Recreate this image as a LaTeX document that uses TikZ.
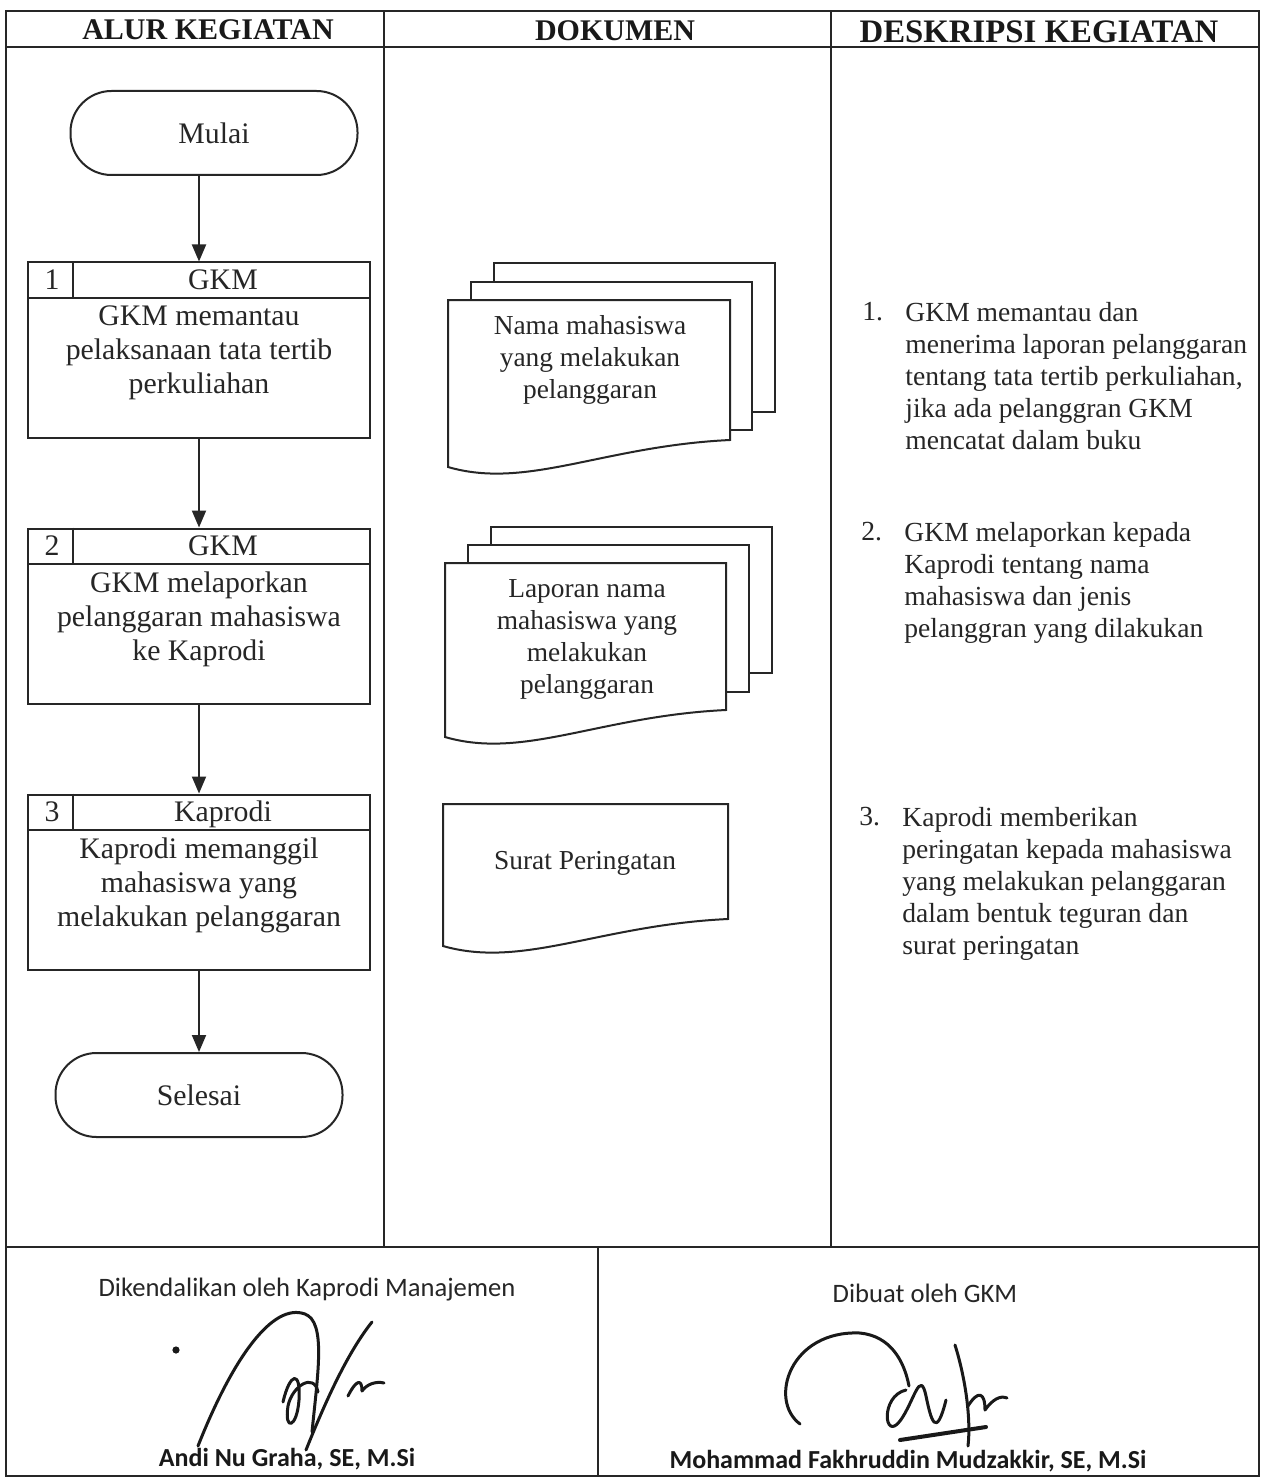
\documentclass[tikz,border=0pt]{standalone}
\usepackage{fontspec}
\setmainfont{Liberation Serif}
\newfontfamily\calib{Carlito}
\usetikzlibrary{arrows.meta}
\newcommand\docfront[4]{%
  \filldraw[docline] (#1,#2) -- (#3,#2) -- (#3,#4)
    .. controls ({#1+0.55*(#3-#1)},{#4+6}) and ({#1+0.28*(#3-#1)},{#4+50}) .. (#1,{#4+27}) -- cycle;}
\begin{document}
\begin{tikzpicture}[x=0.5pt,y=-0.5pt,
  ink/.style={black!85},
  frame/.style={draw=black!85,line width=1pt},
  docline/.style={draw=black!85,fill=white,line width=1pt},
  flowbox/.style={draw=black!85,line width=1pt,minimum width=171pt,minimum height=87.5pt,inner sep=0pt},
  bodytext/.style={inner sep=0pt,align=center,text=black!85,font=\fontsize{14.9}{17}\selectfont},
  term/.style={draw=black!85,line width=1pt,rounded corners=20.5pt,minimum width=143.5pt,minimum height=42pt,inner sep=0pt,text=black!85,font=\fontsize{14.9}{17}\selectfont},
  cell/.style={inner sep=0pt,anchor=base,text=black!85,font=\fontsize{14.9}{17}\selectfont},
  hdr/.style={inner sep=0pt,text=black!90,font=\fontsize{15}{17}\selectfont\bfseries},
  doctext/.style={inner sep=0pt,align=center,text=black!85,font=\fontsize{13.7}{16}\selectfont},
  desc/.style={inner sep=0pt,align=left,anchor=north west,text=black!85,font=\fontsize{13.8}{16}\selectfont},
  num/.style={inner sep=0pt,anchor=north west,text=black!85,font=\fontsize{13.8}{16}\selectfont},
  foot/.style={inner sep=0pt,text=black!85,font=\calib\fontsize{13.3}{15}\selectfont},
  footb/.style={inner sep=0pt,text=black!90,font=\calib\fontsize{13}{15}\selectfont\bfseries},
  arr/.style={draw=black!85,line width=1pt,-{Triangle[length=8.5pt,width=7pt]}},
  sig/.style={draw=black!90,line width=1.5pt,line cap=round,line join=round}]
\useasboundingbox (0,0) rectangle (1267,1482);
\fill[white] (0,0) rectangle (1267,1482);
% table
\draw[frame] (6,11) rectangle (1259,1476);
\draw[frame] (6,47) -- (1259,47);
\draw[frame] (384,11) -- (384,1247);
\draw[frame] (831,11) -- (831,1247);
\draw[frame] (6,1247) -- (1259,1247);
\draw[frame] (598,1247) -- (598,1476);
\node[hdr] (h1) at (208,30) {ALUR KEGIATAN};
\node[hdr] (h2) at (615,31) {DOKUMEN};
\node[hdr,font=\fontsize{16.4}{18}\selectfont\bfseries] (h3) at (1039,32) {DESKRIPSI KEGIATAN};
% flow
\node[term] (mulai) at (214,133) {Mulai};
\node[flowbox] (b1) at (199,350) {};
\node[flowbox] (b2) at (199,616) {};
\node[flowbox] (b3) at (199,882) {};
\node[bodytext] (b1t) at (199,353) {GKM memantau\\pelaksanaan tata tertib\\perkuliahan};
\node[bodytext] (b2t) at (199,619) {GKM melaporkan\\pelanggaran mahasiswa\\ke Kaprodi};
\node[bodytext] (b3t) at (199,885) {Kaprodi memanggil\\mahasiswa yang\\melakukan pelanggaran};
\node[term] (selesai) at (199,1095) {Selesai};
\foreach \b/\n/\t in {b1/1/GKM,b2/2/GKM,b3/3/Kaprodi}{
  \draw[frame] ([yshift=-18pt]\b.north west) -- ([yshift=-18pt]\b.north east);
  \draw[frame] ([xshift=23pt]\b.north west) -- ([xshift=23pt,yshift=-18pt]\b.north west);
  \node[cell] (\b n) at ([xshift=12.5pt,yshift=-14.2pt]\b.north west) {\n};
  \node[cell] (\b h) at ([xshift=98pt,yshift=-14.2pt]\b.north west) {\t};
}
\draw[arr] (mulai.south -| b1.north) -- (b1.north);
\draw[arr] (b1) -- (b2);
\draw[arr] (b2) -- (b3);
\draw[arr] (b3) -- (selesai);
% documents
\filldraw[docline] (494,263) rectangle (775,412);
\filldraw[docline] (471,282) rectangle (752,430);
\docfront{448}{300}{730}{440}
\node[doctext] (d1) at (590,360) {Nama mahasiswa\\yang melakukan\\pelanggaran};
\filldraw[docline] (491,527) rectangle (772,673);
\filldraw[docline] (468,545) rectangle (749,692);
\docfront{445}{563}{726}{710}
\node[doctext] (d2) at (587,639) {Laporan nama\\mahasiswa yang\\melakukan\\pelanggaran};
\docfront{443}{804}{728}{919}
\node[doctext] (d3) at (585,863) {Surat Peringatan};
% descriptions
\node[num] (n1) at (862,302) {1.};
\node[desc] (t1) at (905,302) {GKM memantau dan\\menerima laporan pelanggaran\\tentang tata tertib perkuliahan,\\jika ada pelanggran GKM\\mencatat dalam buku};
\node[num] (n2) at (861,522) {2.};
\node[desc] (t2) at (904,522) {GKM melaporkan kepada\\Kaprodi tentang nama\\mahasiswa dan jenis\\pelanggran yang dilakukan};
\node[num] (n3) at (859,807) {3.};
\node[desc] (t3) at (902,807) {Kaprodi memberikan\\peringatan kepada mahasiswa\\yang melakukan pelanggaran\\dalam bentuk teguran dan\\surat peringatan};
% footer
\node[foot] (f1) at (307,1290) {Dikendalikan oleh Kaprodi Manajemen};
\node[foot] (f2) at (925,1293) {Dibuat oleh GKM};
\node[footb] (s1) at (287,1459) {Andi Nu Graha, SE, M.Si};
\node[footb] (s2) at (908,1461) {Mohammad Fakhruddin Mudzakkir, SE, M.Si};
% signature 1
\fill[black!90] (176,1350) circle (1.8pt);
\draw[sig] (198,1446) .. controls (232,1360) and (272,1302) .. (305,1314) .. controls (326,1322) and (318,1372) .. (312,1432);
\draw[sig] (283,1402) .. controls (290,1372) and (301,1370) .. (299,1400) .. controls (297,1428) and (284,1432) .. (288,1406) .. controls (292,1386) and (314,1372) .. (318,1392);
\draw[sig] (306,1450) .. controls (326,1400) and (348,1352) .. (372,1322);
\draw[sig] (348,1396) .. controls (356,1380) and (362,1378) .. (362,1391) .. controls (367,1384) and (376,1381) .. (384,1383);
% signature 2
\draw[sig] (800,1424) .. controls (768,1400) and (790,1330) .. (860,1333) .. controls (890,1336) and (904,1360) .. (909,1386);
\draw[sig] (906,1390) .. controls (880,1396) and (884,1442) .. (900,1421) .. controls (914,1402) and (920,1368) .. (926,1396) .. controls (931,1420) and (936,1440) .. (946,1400);
\draw[sig] (955,1345) .. controls (966,1380) and (971,1420) .. (968,1446);
\draw[sig] (968,1406) .. controls (978,1390) and (985,1392) .. (985,1410) .. controls (992,1400) and (1000,1395) .. (1007,1398);
\draw[sig,line width=2pt] (900,1440) -- (986,1427);
\end{tikzpicture}
\end{document}
